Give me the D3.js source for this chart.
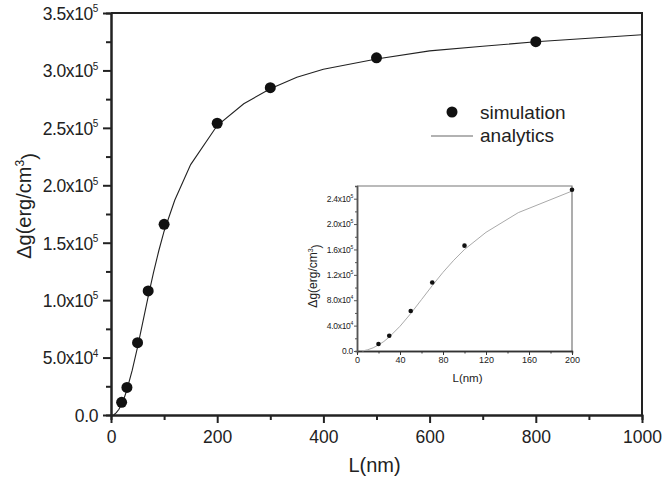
<!DOCTYPE html>
<html>
<head>
<meta charset="utf-8">
<script src="https://cdn.jsdelivr.net/npm/d3@7"></script>
<style>
  body { margin: 0; background: #fff; }
  text { font-family: "Liberation Sans", Arial, sans-serif; fill: #222; }
</style>
</head>
<body>
<div id="chart-area"></div>
<script>
// simulation points
var simL = [20, 30, 50, 70, 100, 200, 300, 500, 800];
var simG = [11000, 24000, 63000, 108000, 166000, 254000, 285000, 311000, 325000];

// analytic curve
var anaL = [5, 10, 15, 20, 25, 30, 40, 50, 60, 70, 80, 90, 100, 120, 150, 200, 250, 300, 350, 400, 500, 600, 700, 800, 900, 1000];
var anaG = [0, 2000, 5000, 9500, 15000, 22000, 39000, 59000, 81000, 103000, 124000, 143000, 160000, 187000, 218000, 252000, 271000, 284000, 294000, 301000, 310000, 317000, 321000, 325000, 328000, 331000];

// main axes ticks
var xTicks = [0, 200, 400, 600, 800, 1000];
var xMinor = [100, 300, 500, 700, 900];
var yTicks = [0, 50000, 100000, 150000, 200000, 250000, 300000, 350000];
var yLabels = ["0.0", "5.0x10^4", "1.0x10^5", "1.5x10^5", "2.0x10^5", "2.5x10^5", "3.0x10^5", "3.5x10^5"];
var yMinor = [25000, 75000, 125000, 175000, 225000, 275000, 325000];

// inset ticks
var inXTicks = [0, 40, 80, 120, 160, 200];
var inXMinor = [20, 60, 100, 140, 180];
var inYTicks = [0, 40000, 80000, 120000, 160000, 200000, 240000];
var inYLabels = ["0.0", "4.0x10^4", "8.0x10^4", "1.2x10^5", "1.6x10^5", "2.0x10^5", "2.4x10^5"];
var inYMinor = [20000, 60000, 100000, 140000, 180000, 220000];

var svg = d3.select("#chart-area")
    .append("svg")
    .attr("width", 662)
    .attr("height", 481);

// writes "a.bx10^n" as text with a superscript
function supLabel(sel, labels, ticks, supSize, supDy) {
    sel.each(function(d) {
        var i = ticks.indexOf(d);
        if (i < 0) return;
        var t = d3.select(this);
        var parts = labels[i].split("^");
        t.text(parts[0]);
        if (parts.length > 1) {
            t.append("tspan").attr("dy", supDy).attr("font-size", supSize).text(parts[1]);
        }
    });
}

// ---------- main plot ----------
var x = d3.scaleLinear().domain([0, 1000]).range([111, 642]);
var y = d3.scaleLinear().domain([0, 350000]).range([415, 13]);

// frame (top + right)
svg.append("path")
    .attr("d", "M" + x(0) + "," + y(350000) + "H" + x(1000) + "V" + y(0))
    .attr("fill", "none").attr("stroke", "#222").attr("stroke-width", 2);

var gx = svg.append("g").attr("transform", "translate(0," + y(0) + ")");
gx.call(d3.axisBottom(x).tickValues(xTicks).tickSize(8).tickPadding(5).tickSizeOuter(0).tickFormat(d3.format("d")));
gx.append("g").call(d3.axisBottom(x).tickValues(xMinor).tickSize(5).tickFormat(""));
gx.selectAll("path.domain").attr("stroke", "#222").attr("stroke-width", 2);
gx.selectAll("line").attr("stroke", "#222").attr("stroke-width", 2);
gx.selectAll("text").attr("font-size", 17.5).attr("fill", "#222").attr("dy", "0.85em");

var gy = svg.append("g").attr("transform", "translate(" + x(0) + ",0)");
gy.call(d3.axisLeft(y).tickValues(yTicks).tickSize(8).tickPadding(5).tickSizeOuter(0));
gy.append("g").call(d3.axisLeft(y).tickValues(yMinor).tickSize(5).tickFormat(""));
gy.selectAll("path.domain").attr("stroke", "#222").attr("stroke-width", 2);
gy.selectAll("line").attr("stroke", "#222").attr("stroke-width", 2);
gy.selectAll(".tick text").attr("font-size", 17.5).attr("fill", "#222").attr("dy", "0.36em")
    .attr("letter-spacing", -0.4)
    .call(supLabel, yLabels, yTicks, 10, "-0.75em");

svg.append("text")
    .attr("x", x(500) - 2).attr("y", 472)
    .attr("text-anchor", "middle").attr("font-size", 20)
    .text("L(nm)");

var yl = svg.append("text")
    .attr("transform", "translate(31,206) rotate(-90)")
    .attr("text-anchor", "middle").attr("font-size", 20)
    .text("Δg(erg/cm");
yl.append("tspan").attr("dy", "-0.6em").attr("font-size", 12).text("3");
yl.append("tspan").attr("dy", "0.6em").text(")");

var line = d3.line().x(d => x(d[0])).y(d => y(d[1]));
svg.append("path")
    .datum(anaL.map((l, i) => [l, anaG[i]]))
    .attr("d", line)
    .attr("fill", "none").attr("stroke", "#222").attr("stroke-width", 1.1);

svg.selectAll("circle.sim")
    .data(simL)
    .enter()
    .append("circle")
    .attr("class", "sim")
    .attr("cx", d => x(d))
    .attr("cy", (d, i) => y(simG[i]))
    .attr("r", 5.5)
    .attr("fill", "#111");

// legend
svg.append("circle").attr("cx", 452).attr("cy", 112).attr("r", 5.5).attr("fill", "#111");
svg.append("text").attr("x", 480).attr("y", 119).attr("font-size", 19).text("simulation");
svg.append("line").attr("x1", 431).attr("x2", 473).attr("y1", 136).attr("y2", 136)
    .attr("stroke", "#666").attr("stroke-width", 1.2);
svg.append("text").attr("x", 480).attr("y", 142).attr("font-size", 19).text("analytics");

// ---------- inset ----------
var ix = d3.scaleLinear().domain([0, 200]).range([357, 572]);
var iy = d3.scaleLinear().domain([0, 260000]).range([351, 186]);

svg.append("path")
    .attr("d", "M" + ix(0) + "," + iy(260000) + "H" + ix(200) + "V" + iy(0))
    .attr("fill", "none").attr("stroke", "#777").attr("stroke-width", 1.2);

var igx = svg.append("g").attr("transform", "translate(0," + iy(0) + ")");
igx.call(d3.axisBottom(ix).tickValues(inXTicks).tickSize(4).tickPadding(2).tickSizeOuter(0));
igx.append("g").call(d3.axisBottom(ix).tickValues(inXMinor).tickSize(2.5).tickFormat(""));
igx.selectAll("path.domain").attr("stroke", "#333").attr("stroke-width", 1.5);
igx.selectAll("line").attr("stroke", "#333").attr("stroke-width", 1);
igx.selectAll("text").attr("font-size", 9).attr("fill", "#333");

var igy = svg.append("g").attr("transform", "translate(" + ix(0) + ",0)");
igy.call(d3.axisLeft(iy).tickValues(inYTicks).tickSize(3).tickPadding(1).tickSizeOuter(0));
igy.append("g").call(d3.axisLeft(iy).tickValues(inYMinor).tickSize(2).tickFormat(""));
igy.selectAll("path.domain").attr("stroke", "#555").attr("stroke-width", 1.5);
igy.selectAll("line").attr("stroke", "#555").attr("stroke-width", 1);
igy.selectAll(".tick text").attr("font-size", 8.5).attr("fill", "#333").attr("letter-spacing", -0.3)
    .call(supLabel, inYLabels, inYTicks, 5, "-0.8em");

svg.append("text")
    .attr("x", ix(100) + 3).attr("y", 382)
    .attr("text-anchor", "middle").attr("font-size", 11.5)
    .text("L(nm)");

var iyl = svg.append("text")
    .attr("transform", "translate(317,276) rotate(-90)")
    .attr("text-anchor", "middle").attr("font-size", 12)
    .text("Δg(erg/cm");
iyl.append("tspan").attr("dy", "-0.6em").attr("font-size", 7).text("3");
iyl.append("tspan").attr("dy", "0.6em").text(")");

var iline = d3.line().x(d => ix(d[0])).y(d => iy(d[1]));
svg.append("path")
    .datum(anaL.filter(l => l <= 200).map((l, i) => [l, anaG[i]]))
    .attr("d", iline)
    .attr("fill", "none").attr("stroke", "#aaa").attr("stroke-width", 1);

svg.selectAll("circle.isim")
    .data(simL.filter(l => l <= 200))
    .enter()
    .append("circle")
    .attr("class", "isim")
    .attr("cx", d => ix(d))
    .attr("cy", (d, i) => iy(simG[i]))
    .attr("r", 2.3)
    .attr("fill", "#111");
</script>
</body>
</html>
